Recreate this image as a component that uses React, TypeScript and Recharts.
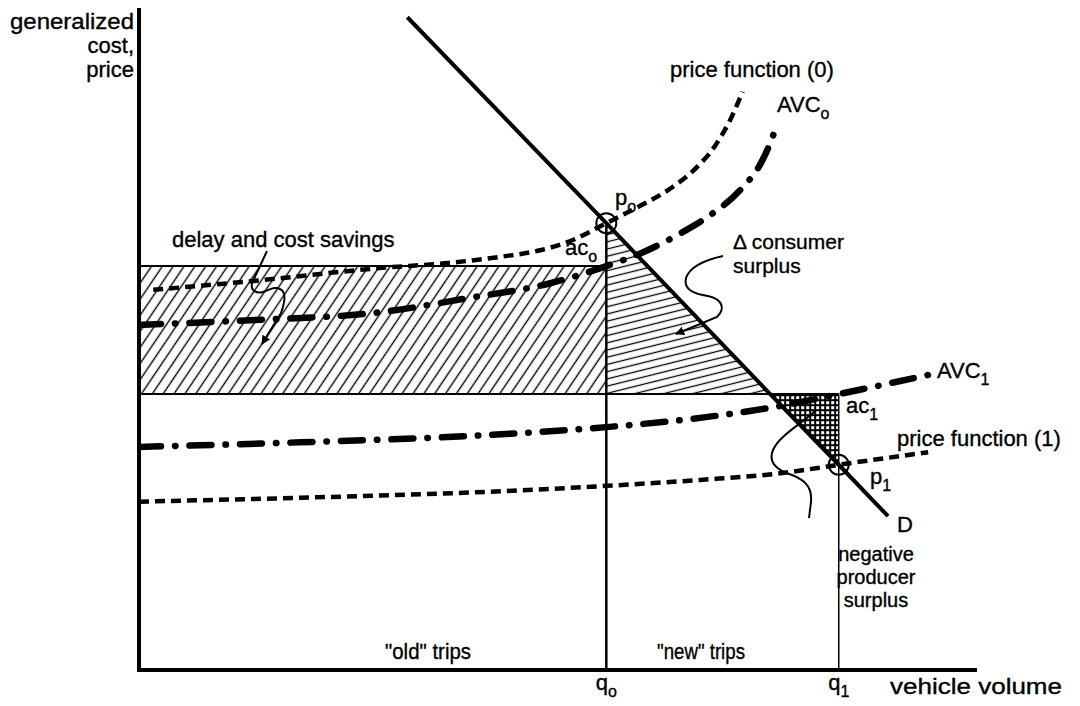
import React from 'react';
import {
  ComposedChart,
  Line,
  Area,
  XAxis,
  YAxis,
  ReferenceArea,
  ReferenceLine,
  ReferenceDot,
} from 'recharts';

// Vehicle volume (x) and generalized cost / price (y), both on a 0–100 scale.
const volumeTicks = [55.9, 83.7];
const volumeTickSubs = ['o', '1'];

const Q0 = 55.9; // old equilibrium volume
const Q1 = 83.7; // new equilibrium volume
const AC0 = 61.2; // average cost at q0 on AVC0
const AC1 = 41.8; // average cost at q1 on AVC1
const P0 = 67.7; // price at q0
const P1 = 31.1; // price at q1
const DEMAND_AT_AC1 = 75.5; // volume where demand meets the ac1 level

const demandX = [32.1, 55.9, 75.5, 83.7, 89.6];
const demandY = [98.9, 67.7, 41.8, 31.1, 23.3];

const priceFn0X = [1.7, 13.3, 28.8, 37.2, 43.2, 48.0, 51.6, 55.9, 59.9, 63.5, 66.5, 68.9, 70.7, 72.2];
const priceFn0Y = [57.6, 58.9, 60.9, 61.7, 62.6, 63.6, 65.0, 67.7, 70.3, 72.9, 75.9, 79.4, 83.3, 87.6];

const avc0X = [0, 13.3, 28.8, 39.6, 49.2, 55.9, 60.3, 65.1, 68.3, 71.9, 74.6, 75.8, 76.4];
const avc0Y = [52.3, 53.0, 54.2, 56.4, 58.6, 61.2, 63.3, 66.4, 68.9, 72.7, 77.3, 80.8, 83.0];

const avc1X = [0, 19.3, 41.7, 55.9, 67.1, 76.7, 83.7, 94.4];
const avc1Y = [33.8, 34.5, 35.6, 36.8, 38.2, 40.0, 41.8, 44.7];

const priceFn1X = [0, 19.3, 41.7, 55.9, 67.1, 76.7, 83.7, 94.4];
const priceFn1Y = [25.5, 26.1, 27.0, 27.9, 28.8, 29.8, 31.1, 33.0];

const zip = (xs: number[], ys: number[]) => xs.map((x, i) => ({ x, y: ys[i] }));

const demand = zip(demandX, demandY);
const priceFn0 = zip(priceFn0X, priceFn0Y);
const avc0 = zip(avc0X, avc0Y);
const avc1 = zip(avc1X, avc1Y);
const priceFn1 = zip(priceFn1X, priceFn1Y);

const consumerSurplus = [
  { x: Q0, y: P0 },
  { x: DEMAND_AT_AC1, y: AC1 },
];
const producerLoss = [
  { x: DEMAND_AT_AC1, y: AC1 },
  { x: Q1, y: P1 },
];

const FONT = '"Liberation Sans", Arial, Helvetica, sans-serif';
const FS = 22;
const SUB = 16;
const INK = { fill: '#000', stroke: '#000', strokeWidth: 0.35 };

const VolumeTick = (props: any) => {
  const { x, y, payload } = props;
  const i = volumeTicks.indexOf(payload.value);
  return (
    <text x={x} y={y + 12} textAnchor="middle" fontFamily={FONT} fontSize={FS} {...INK}>
      <tspan>q</tspan>
      <tspan dy={7} fontSize={SUB}>
        {volumeTickSubs[i]}
      </tspan>
    </text>
  );
};

const T = ({ x, y, children, anchor = 'start', size = FS, width }: any) => (
  <text
    x={x}
    y={y}
    textAnchor={anchor}
    fontFamily={FONT}
    fontSize={size}
    {...INK}
    {...(width ? { textLength: width, lengthAdjust: 'spacingAndGlyphs' } : {})}
  >
    {children}
  </text>
);

const Subbed = ({ x, y, base, sub }: any) => (
  <text x={x} y={y} fontFamily={FONT} fontSize={FS} {...INK}>
    <tspan>{base}</tspan>
    <tspan dy={7} fontSize={SUB}>
      {sub}
    </tspan>
  </text>
);

const avcDash = '22 14 0.5 14';
const priceDash = '10 6';

export default function App() {
  return (
    <div style={{ position: 'absolute', left: 0, top: 0, width: 1080, height: 706, background: '#fff' }}>
      <ComposedChart width={1080} height={706} margin={{ top: 10, right: 105, bottom: 0, left: 0 }}>
        <defs>
          <pattern id="diagHatch" patternUnits="userSpaceOnUse" width="9" height="9" patternTransform="rotate(34)">
            <line x1="4.5" y1="0" x2="4.5" y2="9" stroke="#000" strokeWidth="1.4" />
          </pattern>
          <pattern id="hHatch" patternUnits="userSpaceOnUse" width="10" height="7" patternTransform="rotate(-14)">
            <line x1="0" y1="3.5" x2="10" y2="3.5" stroke="#000" strokeWidth="1.3" />
          </pattern>
          <pattern id="dotGrid" patternUnits="userSpaceOnUse" width="5" height="5">
            <rect x="0" y="0" width="5" height="5" fill="#000" />
            <rect x="1.2" y="1.2" width="3" height="3" fill="#fff" />
          </pattern>
        </defs>
        <XAxis
          type="number"
          dataKey="x"
          domain={[0, 100]}
          ticks={volumeTicks}
          tick={<VolumeTick />}
          tickLine={false}
          axisLine={{ stroke: '#000', strokeWidth: 4, strokeLinecap: 'square' }}
          height={36}
          allowDataOverflow
        />
        <YAxis
          type="number"
          dataKey="y"
          domain={[0, 100]}
          tick={false}
          tickLine={false}
          axisLine={{ stroke: '#000', strokeWidth: 4, strokeLinecap: 'square' }}
          width={139}
          allowDataOverflow
        />

        {/* delay and cost savings on old trips */}
        <ReferenceArea x1={0} x2={Q0} y1={AC1} y2={AC0} fill="url(#diagHatch)" fillOpacity={1} stroke="none" ifOverflow="visible" />

        {/* change in consumer surplus */}
        <Area
          data={consumerSurplus}
          dataKey="y"
          type="linear"
          baseValue={AC1}
          stroke="none"
          fill="url(#hHatch)"
          fillOpacity={1}
          isAnimationActive={false}
          dot={false}
          activeDot={false}
        />
        {/* negative producer surplus */}
        <Area
          data={producerLoss}
          dataKey="y"
          type="linear"
          baseValue={AC1}
          stroke="none"
          fill="url(#dotGrid)"
          fillOpacity={1}
          isAnimationActive={false}
          dot={false}
          activeDot={false}
        />

        <ReferenceLine segment={[{ x: 0, y: AC0 }, { x: Q0, y: AC0 }]} stroke="#000" strokeWidth={2} ifOverflow="visible" />
        <ReferenceLine segment={[{ x: 0, y: AC1 }, { x: Q1, y: AC1 }]} stroke="#000" strokeWidth={2} ifOverflow="visible" />
        <ReferenceLine segment={[{ x: Q0, y: 0 }, { x: Q0, y: P0 }]} stroke="#000" strokeWidth={2.5} ifOverflow="visible" />
        <ReferenceLine segment={[{ x: Q1, y: 0 }, { x: Q1, y: AC1 }]} stroke="#000" strokeWidth={1.5} ifOverflow="visible" />

        <Line data={priceFn0} dataKey="y" type="monotone" stroke="#000" strokeWidth={4.5} strokeDasharray={priceDash} dot={false} activeDot={false} isAnimationActive={false} />
        <Line data={avc0} dataKey="y" type="monotone" stroke="#000" strokeWidth={6.5} strokeLinecap="round" strokeDasharray={avcDash} dot={false} activeDot={false} isAnimationActive={false} />
        <Line data={avc1} dataKey="y" type="monotone" stroke="#000" strokeWidth={6.5} strokeLinecap="round" strokeDasharray={avcDash} dot={false} activeDot={false} isAnimationActive={false} />
        <Line data={priceFn1} dataKey="y" type="monotone" stroke="#000" strokeWidth={4.5} strokeDasharray={priceDash} dot={false} activeDot={false} isAnimationActive={false} />
        <Line data={demand} dataKey="y" type="linear" stroke="#000" strokeWidth={4} dot={false} activeDot={false} isAnimationActive={false} />

        <ReferenceDot x={Q0} y={P0} r={10} fill="none" stroke="#000" strokeWidth={2} ifOverflow="visible" />
        <ReferenceDot x={Q1} y={P1} r={10} fill="none" stroke="#000" strokeWidth={2} ifOverflow="visible" />
      </ComposedChart>

      <svg width={1080} height={706} style={{ position: 'absolute', left: 0, top: 0, pointerEvents: 'none' }}>
        <defs>
          <marker id="head" viewBox="0 0 10 10" refX="9" refY="5" markerWidth="9" markerHeight="9" markerUnits="userSpaceOnUse" orient="auto">
            <path d="M0,0 L10,5 L0,10 Z" fill="#000" />
          </marker>
        </defs>

        {/* axis titles */}
        <T x={134} y={29} anchor="end" width={124}>generalized</T>
        <T x={134} y={53} anchor="end">cost,</T>
        <T x={134} y={77} anchor="end">price</T>
        <T x={890} y={694} width={172}>vehicle volume</T>

        {/* curve labels */}
        <T x={670} y={77}>price function (0)</T>
        <Subbed x={777} y={112} base="AVC" sub="o" />
        <Subbed x={615} y={205} base="p" sub="o" />
        <Subbed x={565} y={255} base="ac" sub="o" />
        <Subbed x={937} y={378} base="AVC" sub="1" />
        <Subbed x={846} y={413} base="ac" sub="1" />
        <T x={897} y={446}>price function (1)</T>
        <Subbed x={870} y={484} base="p" sub="1" />
        <T x={897} y={532}>D</T>

        {/* region annotations */}
        <T x={172} y={247}>delay and cost savings</T>
        <T x={733} y={249} size={21}>Δ consumer</T>
        <T x={733} y={273} size={21}>surplus</T>
        <T x={876} y={561} anchor="middle" size={20}>negative</T>
        <T x={876} y={584} anchor="middle" size={20}>producer</T>
        <T x={876} y={607} anchor="middle" size={20}>surplus</T>
        <T x={385} y={659} width={86}>"old" trips</T>
        <T x={657} y={659} width={88}>"new" trips</T>

        {/* leader lines */}
        <path
          d="M 267 251 L 253 281 C 249 289, 255 294, 263 292 C 270 290, 274 286, 280 289 C 287 292, 285 302, 281 313 L 262 344"
          fill="none"
          stroke="#000"
          strokeWidth={2}
          markerEnd="url(#head)"
        />
        <path
          d="M 723 256 C 705 260, 690 266, 686 278 C 683 290, 695 294, 708 296 C 722 299, 726 308, 717 317 L 676 334"
          fill="none"
          stroke="#000"
          strokeWidth={2}
          markerEnd="url(#head)"
        />
        <path
          d="M 815 411 C 800 425, 780 435, 773 450 C 768 462, 776 470, 792 475 C 808 481, 812 490, 811 502 L 809 518"
          fill="none"
          stroke="#000"
          strokeWidth={2}
        />
      </svg>
    </div>
  );
}
